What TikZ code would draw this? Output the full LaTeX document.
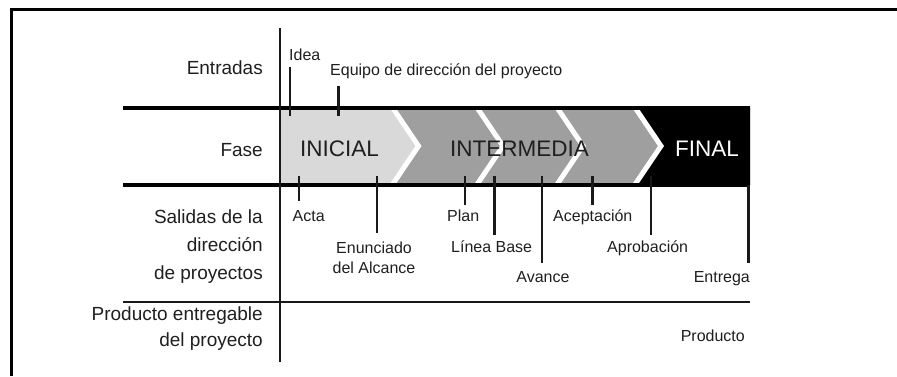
\documentclass[tikz,border=0pt]{standalone}
\usepackage{fontspec}
\setmainfont{Liberation Sans}
\begin{document}
\begin{tikzpicture}[x=1pt,y=-1pt,
  lbl/.style={inner sep=0pt,anchor=base east,text=black!88,font=\fontsize{19}{23}\selectfont},
  tlbl/.style={inner sep=0pt,anchor=base west,text=black!88,font=\fontsize{16}{19}\selectfont},
  phase/.style={inner sep=0pt,anchor=base west,font=\fontsize{22.5}{26}\selectfont},
  tick/.style={line width=2.2pt,black!90},
  thick line/.style={line width=4pt,black},
  chev/.style={white,line width=5pt,miter limit=10}]
\useasboundingbox (0,0) rectangle (897,376);
% frame
\coordinate (fbl) at (11,376);
\coordinate (ftl) at (11,9.5);
\coordinate (ftr) at (897,9.5);
\draw[line width=3pt] (fbl) -- (ftl) -- (ftr);
% band fills
\fill[gray!30] (280,107) rectangle (750,185);
\fill[gray!75] (391.5,107) -- (418.5,146) -- (391.5,185) -- (750,185) -- (750,107) -- cycle;
\fill[black] (634,107) -- (661,146) -- (634,185) -- (750,185) -- (750,107) -- cycle;
\foreach \b in {391.5,476,556,634}{
  \draw[chev] (\b,106) -- (\b+27,146) -- (\b,186);
}
% horizontal lines
\coordinate (hl1) at (123,107.5);
\coordinate (hr1) at (750,107.5);
\coordinate (hl2) at (123,185);
\coordinate (hr2) at (750,185);
\coordinate (hl3) at (123,302);
\coordinate (hr3) at (750,302);
\draw[thick line] (hl1) -- (hr1);
\draw[thick line] (hl2) -- (hr2);
\draw[line width=2.5pt,black!90] (hl3) -- (hr3);
% main vertical
\coordinate (vt) at (280,28);
\coordinate (vb) at (280,362);
\draw[line width=2.4pt,black!90] (vt) -- (vb);
% ticks
\coordinate (ideaA) at (290,67);   \coordinate (ideaB) at (290,116);
\coordinate (equA) at (338.5,86);  \coordinate (equB) at (338.5,116);
\coordinate (actaA) at (299,176);  \coordinate (actaB) at (299,201);
\coordinate (enuA) at (377,176);   \coordinate (enuB) at (377,233);
\coordinate (planA) at (465,176);  \coordinate (planB) at (465,205);
\coordinate (linA) at (494.5,176); \coordinate (linB) at (494.5,235);
\coordinate (avA) at (542,176);    \coordinate (avB) at (542,263);
\coordinate (acA) at (592.5,176);  \coordinate (acB) at (592.5,205);
\coordinate (apA) at (651,176);    \coordinate (apB) at (651,235);
\coordinate (entA) at (748.5,185); \coordinate (entB) at (748.5,263);
\foreach \t in {idea,equ,acta,enu,plan,lin,av,ac,ap,ent}{
  \draw[tick] (\t A) -- (\t B);
}
% row labels
\node[lbl] (entradas) at (263,74) {Entradas};
\node[lbl] (fase) at (263,156) {Fase};
\node[lbl] (sal1) at (263,223) {Salidas de la};
\node[lbl] (sal2) at (263,251) {dirección};
\node[lbl] (sal3) at (263,279) {de proyectos};
\node[lbl] (prod1) at (263,320) {Producto entregable};
\node[lbl] (prod2) at (263,346) {del proyecto};
% phases
\node[phase,text=black!88] (inicial) at (300,156) {INICIAL};
\node[phase,text=black!88] (intermedia) at (450,156) {INTERMEDIA};
\node[phase,text=white] (final) at (675,156) {FINAL};
% tick labels
\node[tlbl] (idea) at (289,60) {Idea};
\node[tlbl] (equipo) at (330,75) {Equipo de dirección del proyecto};
\node[tlbl] (acta) at (292.5,221) {Acta};
\node[tlbl,anchor=base] (enun1) at (374,253) {Enunciado};
\node[tlbl,anchor=base] (enun2) at (374,273) {del Alcance};
\node[tlbl] (plan) at (447,221) {Plan};
\node[tlbl] (linea) at (451,252) {Línea Base};
\node[tlbl,anchor=base] (avance) at (543,282) {Avance};
\node[tlbl] (acept) at (553,221) {Aceptación};
\node[tlbl] (aprob) at (607,252) {Aprobación};
\node[tlbl,anchor=base east] (entrega) at (750,282) {Entrega};
\node[tlbl,anchor=base east] (producto) at (745,341) {Producto};
\end{tikzpicture}
\end{document}
